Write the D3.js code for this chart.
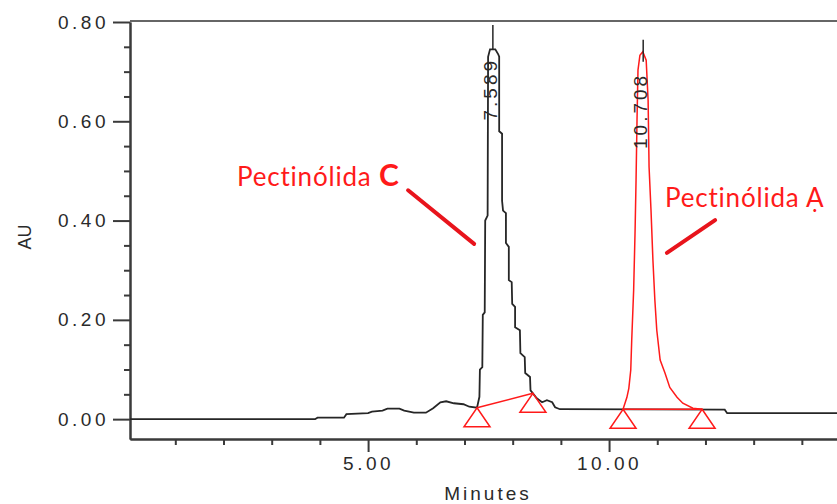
<!DOCTYPE html>
<html>
<head>
<meta charset="utf-8">
<script src="https://cdn.jsdelivr.net/npm/d3@7"></script>
<style>
  body { margin: 0; background: #fff; }
  svg { display: block; }
</style>
</head>
<body>
<svg id="chart"></svg>
<script>
// chromatogram traces (minutes, AU)
const blackTime = [0.06, 3.90, 3.95, 4.50, 4.55, 5.00, 5.08, 5.30, 5.40, 5.65, 5.75, 5.95, 6.20, 6.35, 6.50, 6.62, 6.78, 6.98, 7.10, 7.26,
  7.31, 7.32, 7.37, 7.38, 7.42, 7.43, 7.48, 7.49, 7.53, 7.64, 7.70, 7.72, 7.72, 7.78, 7.78, 7.80, 7.86, 7.86, 7.92, 7.92,
  7.98, 7.99, 8.05, 8.05, 8.15, 8.16, 8.25, 8.26, 8.36, 8.37, 8.42, 8.50, 8.61, 8.71, 8.82, 8.88, 8.98, 12.40, 12.45, 14.75];
const blackAU = [0.000, 0.000, 0.003, 0.003, 0.010, 0.012, 0.015, 0.017, 0.021, 0.021, 0.017, 0.013, 0.013, 0.022, 0.034, 0.036, 0.032, 0.030, 0.025, 0.023,
  0.045, 0.100, 0.105, 0.210, 0.215, 0.400, 0.410, 0.730, 0.745, 0.745, 0.735, 0.730, 0.580, 0.575, 0.440, 0.420, 0.415, 0.355, 0.347, 0.280,
  0.276, 0.232, 0.226, 0.185, 0.179, 0.133, 0.125, 0.093, 0.085, 0.058, 0.052, 0.042, 0.034, 0.038, 0.034, 0.024, 0.020, 0.019, 0.012, 0.012];

const redTime = [10.29, 10.37, 10.41, 10.45, 10.47, 10.51, 10.54, 10.56, 10.58, 10.60, 10.64, 10.70, 10.77, 10.81, 10.83, 10.87,
  10.91, 10.95, 10.99, 11.06, 11.16, 11.26, 11.41, 11.53, 11.74, 11.93];
const redAU = [0.020, 0.044, 0.062, 0.099, 0.159, 0.260, 0.381, 0.482, 0.603, 0.703, 0.733, 0.740, 0.723, 0.643, 0.508, 0.421,
  0.320, 0.240, 0.179, 0.119, 0.093, 0.064, 0.044, 0.032, 0.022, 0.020];

// peak apex markers and retention time labels
const peakRT = [7.589, 10.708];
const peakLabels = ["7.589", "10.708"];
const peakTop = [0.794, 0.764];
const peakBody = [0.744, 0.720];

// integration start / end points (red triangles + baseline)
const intStartT = [7.26, 10.29];
const intStartAU = [0.023, 0.020];
const intEndT = [8.42, 11.93];
const intEndAU = [0.052, 0.020];

// axis ticks
const yMajor = [0, 0.2, 0.4, 0.6, 0.8];
const yMinor = [0.05, 0.1, 0.15, 0.25, 0.3, 0.35, 0.45, 0.5, 0.55, 0.65, 0.7, 0.75];
const xMajor = [5, 10];
const xMinor = [1, 2, 3, 4, 6, 7, 8, 9, 11, 12, 13, 14];

// compound annotations (text anchor and pointer, in minutes / AU)
const annoName = ["Pectinólida", "Pectinólida"];
const annoLetter = ["C", "Ạ"];
const annoT = [2.28, 11.16];
const annoAU = [0.47, 0.427];
const pointerFromT = [5.83, 12.20];
const pointerFromAU = [0.461, 0.401];
const pointerToT = [7.20, 11.20];
const pointerToAU = [0.353, 0.335];

const W = 837, H = 504;
const margin = { top: 22, right: 0, bottom: 65, left: 130 };

const svg = d3.select("#chart")
    .attr("width", W)
    .attr("height", H);

const x = d3.scaleLinear()
    .domain([0.06, 14.75])
    .range([margin.left, 838]);

const y = d3.scaleLinear()
    .domain([-0.04, 0.8])
    .range([H - margin.bottom - 0, margin.top]);

const axisColor = "#3a3a3a";
const red = "#ff1a1a";
const tickFont = "'Liberation Sans', Arial, sans-serif";

// top frame line
svg.append("line")
    .attr("x1", margin.left).attr("x2", W)
    .attr("y1", y(0.8) - 1).attr("y2", y(0.8) - 1)
    .attr("stroke", "#666").attr("stroke-width", 2);

// y axis
const yAxisG = svg.append("g")
    .attr("transform", `translate(${margin.left},0)`)
    .call(d3.axisLeft(y).tickValues(yMajor).tickSize(17).tickSizeOuter(0).tickPadding(4)
        .tickFormat(d3.format(".2f")));
svg.append("g")
    .attr("transform", `translate(${margin.left},0)`)
    .call(d3.axisLeft(y).tickValues(yMinor).tickSize(6).tickSizeOuter(0).tickFormat(""));

// x axis
const xAxisG = svg.append("g")
    .attr("transform", `translate(0,${y.range()[0]})`)
    .call(d3.axisBottom(x).tickValues(xMajor).tickSize(13).tickSizeOuter(0).tickPadding(5)
        .tickFormat(d3.format(".2f")));
svg.append("g")
    .attr("transform", `translate(0,${y.range()[0]})`)
    .call(d3.axisBottom(x).tickValues(xMinor).tickSize(6).tickSizeOuter(0).tickFormat(""));

svg.selectAll(".domain, .tick line")
    .attr("stroke", axisColor)
    .attr("stroke-width", 2);

svg.selectAll(".tick text")
    .attr("fill", "#2a2a2a")
    .style("font-family", tickFont)
    .style("font-size", "19px")
    .style("letter-spacing", "3.5px");

// axis titles
svg.append("text")
    .attr("transform", "translate(31,237) rotate(-90)")
    .attr("text-anchor", "middle")
    .attr("fill", "#2a2a2a")
    .style("font-family", tickFont)
    .style("font-size", "18px")
    .text("AU");

svg.append("text")
    .attr("x", 488)
    .attr("y", 500)
    .attr("text-anchor", "middle")
    .attr("fill", "#2a2a2a")
    .style("font-family", tickFont)
    .style("font-size", "19px")
    .style("letter-spacing", "3px")
    .text("Minutes");

const line = d3.line()
    .x(d => x(d[0]))
    .y(d => y(d[1]));

// black trace
svg.append("path")
    .datum(blackTime.map((t, i) => [t, blackAU[i]]))
    .attr("d", line)
    .attr("fill", "none")
    .attr("stroke", "#262626")
    .attr("stroke-width", 1.8);

// red trace
svg.append("path")
    .datum(redTime.map((t, i) => [t, redAU[i]]))
    .attr("d", line)
    .attr("fill", "none")
    .attr("stroke", red)
    .attr("stroke-width", 1.5);

// integration baselines
intStartT.forEach((t, i) => {
    svg.append("line")
        .attr("x1", x(t)).attr("y1", y(intStartAU[i]))
        .attr("x2", x(intEndT[i])).attr("y2", y(intEndAU[i]))
        .attr("stroke", red).attr("stroke-width", 1.5);
});

// triangles at start/end of integration
const triPts = intStartT.map((t, i) => [t, intStartAU[i]])
    .concat(intEndT.map((t, i) => [t, intEndAU[i]]));
svg.selectAll(".tri")
    .data(triPts)
    .enter().append("path")
    .attr("class", "tri")
    .attr("d", d => {
        const px = x(d[0]), py = y(d[1]);
        return `M${px},${py} L${px + 13},${py + 19} L${px - 13},${py + 19} Z`;
    })
    .attr("fill", "none")
    .attr("stroke", red)
    .attr("stroke-width", 1.5);

// apex markers
peakRT.forEach((t, i) => {
    svg.append("line")
        .attr("x1", x(t)).attr("x2", x(t))
        .attr("y1", y(peakTop[i])).attr("y2", y(peakBody[i]))
        .attr("stroke", "#262626").attr("stroke-width", 1.5);

    svg.append("text")
        .attr("transform", `translate(${x(t) + 4},${y(peakTop[i]) + 33}) rotate(-90)`)
        .attr("text-anchor", "end")
        .attr("fill", "#2a2a2a")
        .style("font-family", tickFont)
        .style("font-size", "19px")
        .style("letter-spacing", "3px")
        .text(peakLabels[i]);
});

// annotations
annoName.forEach((name, i) => {
    const txt = svg.append("text")
        .attr("x", x(annoT[i]))
        .attr("y", y(annoAU[i]))
        .attr("fill", red)
        .style("font-family", "Lato, 'Open Sans', sans-serif")
        .style("font-size", "26px")
        .style("letter-spacing", "0.8px");
    txt.append("tspan").text(name + " ");
    const letter = txt.append("tspan").text(annoLetter[i]);
    if (i === 0) {
        letter.style("font-weight", "bold").style("font-size", "30px");
    }

    svg.append("line")
        .attr("x1", x(pointerFromT[i])).attr("y1", y(pointerFromAU[i]))
        .attr("x2", x(pointerToT[i])).attr("y2", y(pointerToAU[i]))
        .attr("stroke", "#e8141c")
        .attr("stroke-width", 4)
        .attr("stroke-linecap", "round");
});
</script>
</body>
</html>
